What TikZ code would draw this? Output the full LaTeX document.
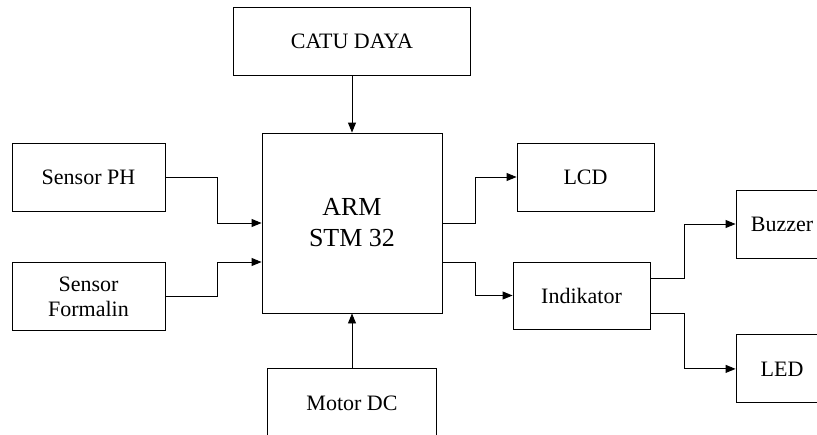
\documentclass[tikz,border=0pt]{standalone}
\usepackage{fontspec}
\setmainfont{Liberation Serif}
\usetikzlibrary{arrows.meta,positioning,calc}

\begin{document}
\begin{tikzpicture}[x=1pt, y=-1pt, font=\fontsize{22}{25}\selectfont,
		blok/.style={draw, line width=0.9pt, align=center, inner sep=2pt},
		panah/.style={-{Triangle[length=10pt,width=8pt]}, line width=0.9pt}]
			\useasboundingbox (0,0) rectangle (817,434);
			\clip (0,0) rectangle (817,434);
			% blok utama
			\node[blok, minimum width=180pt, minimum height=180pt,
				font=\fontsize{26}{31}\selectfont] (arm) at (352,223)
			{ARM\\STM 32};
			\node[blok, minimum width=237pt, minimum height=68pt,
				above=57pt of arm] (catu) {CATU DAYA};
			\node[blok, minimum width=169pt, minimum height=68pt,
				below=55pt of arm] (motor) {Motor DC};
			% masukan
			\node[blok, minimum width=153pt, minimum height=68pt] (ph)
			at (88.5,177) {Sensor PH};
			\node[blok, minimum width=153pt, minimum height=68pt,
				below=51pt of ph] (formalin) {Sensor\\Formalin};
			% keluaran
			\node[blok, minimum width=137pt, minimum height=68pt] (lcd)
			at (585.5,177) {LCD};
			\node[blok, minimum width=137pt, minimum height=67pt] (indikator)
			at (581.5,295.5) {Indikator};
			\node[blok, minimum width=92pt, minimum height=68pt] (buzzer)
			at (782,224) {Buzzer};
			\node[blok, minimum width=92pt, minimum height=68pt,
				below=76pt of buzzer] (led) {LED};
			% panah
			\draw[panah] (catu) -- (arm);
			\draw[panah] (motor) -- (arm);
			\draw[panah] (ph.east) -- ++(52,0) |- (arm.west);
			\draw[panah] (formalin.east) -- ++(52,0) |- ($(arm.west)+(0,39)$);
			\draw[panah] (arm.east) -- ++(33,0) |- (lcd.west);
			\draw[panah] ($(arm.east)+(0,39)$) -- ++(33,0) |- (indikator.west);
			\draw[panah] ($(indikator.east)+(0,-17.5)$) -- ++(34,0) |- (buzzer.west);
			\draw[panah] ($(indikator.east)+(0,17.5)$) -- ++(34,0) |- (led.west);
		\end{tikzpicture}
\end{document}
